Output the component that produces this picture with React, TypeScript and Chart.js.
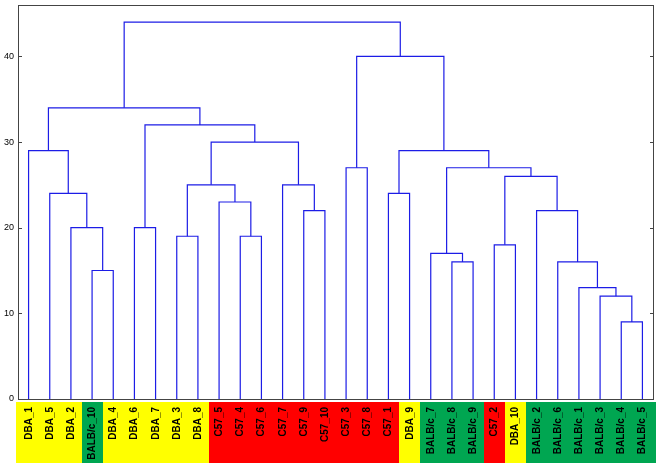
import React, { useEffect, useRef } from "react";
import { Chart, registerables } from "chart.js";
Chart.register(...registerables);

const leafLabels = [
  "DBA_1", "DBA_5", "DBA_2", "BALB/c_10", "DBA_4", "DBA_6", "DBA_7", "DBA_3", "DBA_8",
  "C57_5", "C57_4", "C57_6", "C57_7", "C57_9", "C57_10", "C57_3", "C57_8", "C57_1",
  "DBA_9", "BALB/c_7", "BALB/c_8", "BALB/c_9", "C57_2", "DBA_10",
  "BALB/c_2", "BALB/c_6", "BALB/c_1", "BALB/c_3", "BALB/c_4", "BALB/c_5",
];
// merge k creates node 30 + k
const mergeLeft = [3, 2, 1, 0, 5, 7, 10, 9, 35, 13, 12, 38, 34, 33, 15, 17, 20, 19, 22, 28, 27, 26, 25, 24, 48, 47, 45, 44, 43];
const mergeRight = [4, 30, 31, 32, 6, 8, 11, 36, 37, 14, 39, 40, 41, 42, 16, 18, 21, 46, 23, 29, 49, 50, 51, 52, 53, 54, 55, 56, 57];
const mergeHeights = [15, 20, 24, 29, 20, 19, 19, 23, 25, 22, 25, 30, 32, 34, 27, 24, 16, 17, 18, 9, 12, 13, 16, 22, 26, 27, 29, 40, 44];
const yTicks = [0, 10, 20, 30, 40];
const strainColors: Record<string, string> = { DBA: "#ffff00", BALB: "#00a651", C57: "#ff0000" };

const LINE_COLOR = "#1c1ce6";

function buildDatasets() {
  const nx: number[] = leafLabels.map((_, i) => i * 10 + 5);
  const ny: number[] = leafLabels.map(() => 0);
  const ds: any[] = [];
  mergeLeft.forEach((l, k) => {
    const r = mergeRight[k];
    const h = mergeHeights[k];
    ds.push({
      data: [
        { x: nx[l], y: ny[l] },
        { x: nx[l], y: h },
        { x: nx[r], y: h },
        { x: nx[r], y: ny[r] },
      ],
      borderColor: LINE_COLOR,
      borderWidth: 1.2,
      pointRadius: 0,
      tension: 0,
      fill: false,
    });
    nx.push((nx[l] + nx[r]) / 2);
    ny.push(h);
  });
  return ds;
}

const framePlugin = {
  id: "frame",
  afterDraw(chart: any) {
    const { ctx, chartArea: a, scales } = chart;
    const xs = scales.x;
    const ys = scales.y;
    ctx.save();
    // label strip backgrounds
    const top = a.bottom + 3;
    const bot = a.bottom + 64;
    leafLabels.forEach((lab, i) => {
      const strain = lab.split(/[_/]/)[0];
      let x0 = xs.getPixelForValue(i * 10);
      let x1 = xs.getPixelForValue(i * 10 + 10);
      if (i === 0) x0 -= 2.5;
      if (i === leafLabels.length - 1) x1 += 3;
      ctx.fillStyle = strainColors[strain];
      ctx.fillRect(Math.round(x0), top, Math.round(x1) - Math.round(x0), bot - top);
    });
    // labels
    ctx.fillStyle = "#000";
    ctx.font = 'bold 10px "Liberation Sans Narrow", "Liberation Sans", Arial, sans-serif';
    ctx.textAlign = "right";
    ctx.textBaseline = "middle";
    leafLabels.forEach((lab, i) => {
      const x = xs.getPixelForValue(i * 10 + 5);
      ctx.save();
      ctx.translate(Math.round(x), a.bottom + 8);
      ctx.rotate(-Math.PI / 2);
      ctx.fillText(lab, 0, 0);
      ctx.restore();
    });
    // frame
    ctx.strokeStyle = "#444";
    ctx.lineWidth = 1;
    ctx.strokeRect(Math.round(a.left) + 0.5, Math.round(a.top) + 0.5, Math.round(a.right - a.left), Math.round(a.bottom - a.top));
    // inward ticks on both sides
    ctx.beginPath();
    yTicks.forEach((v) => {
      const y = Math.round(ys.getPixelForValue(v)) + 0.5;
      ctx.moveTo(Math.round(a.left), y);
      ctx.lineTo(Math.round(a.left) + 4, y);
      ctx.moveTo(Math.round(a.right) + 1, y);
      ctx.lineTo(Math.round(a.right) - 3, y);
    });
    ctx.stroke();
    ctx.restore();
  },
};

export default function App() {
  const ref = useRef<HTMLCanvasElement>(null);
  useEffect(() => {
    if (!ref.current) return;
    const chart = new Chart(ref.current, {
      type: "line",
      data: { datasets: buildDatasets() },
      options: {
        animation: false,
        responsive: false,
        devicePixelRatio: 1,
        layout: { padding: { top: 5, right: 8, left: 0, bottom: 0 } },
        plugins: { legend: { display: false }, tooltip: { enabled: false } },
        scales: {
          x: {
            type: "linear",
            min: 0,
            max: 300,
            ticks: { display: false },
            grid: { display: false, drawTicks: false },
            border: { display: false },
            afterFit: (s: any) => { s.height = 70; s.paddingLeft = 0; s.paddingRight = 0; },
          },
          y: {
            type: "linear",
            min: 0,
            max: 46,
            ticks: {
              color: "#000",
              padding: 4,
              font: { size: 9, family: '"Liberation Sans", Arial, sans-serif' },
            },
            afterBuildTicks: (s: any) => { s.ticks = yTicks.map((v) => ({ value: v })); },
            grid: { display: false, drawTicks: false },
            border: { display: false },
            afterFit: (s: any) => { s.width = 18; s.paddingTop = 0; s.paddingBottom = 0; },
          },
        },
      },
      plugins: [framePlugin],
    });
    return () => chart.destroy();
  }, []);
  return (
    <div style={{ position: "fixed", left: 0, top: 0, width: 661, height: 469, background: "#fff" }}>
      <canvas ref={ref} width={661} height={469} style={{ width: 661, height: 469 }} />
    </div>
  );
}
